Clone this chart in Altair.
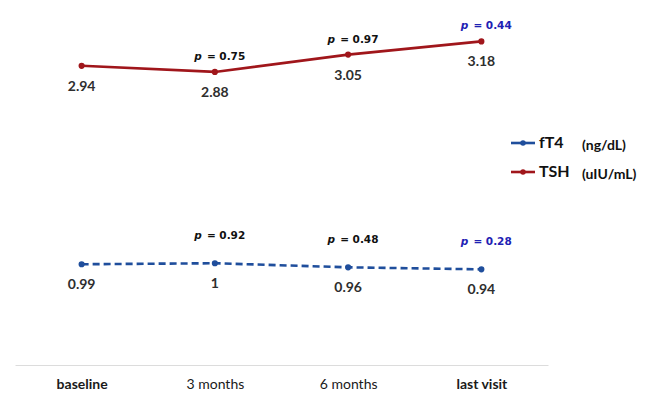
import altair as alt
import pandas as pd

visits = ["baseline", "3 months", "6 months", "last visit"]
tsh_values = [2.94, 2.88, 3.05, 3.18]
ft4_values = [0.99, 1.0, 0.96, 0.94]
tsh_labels = ["2.94", "2.88", "3.05", "3.18"]
ft4_labels = ["0.99", "1", "0.96", "0.94"]
tsh_p = ["", "0.75", "0.97", "0.44"]
ft4_p = ["", "0.92", "0.48", "0.28"]
series_names = ["fT4", "TSH"]
series_units = ["(ng/dL)", "(uIU/mL)"]

RED = "#A0161B"
BLUE = "#1F4E9C"
PBLUE = "#1E22B4"

tsh_df = pd.DataFrame({"visit": visits, "value": tsh_values, "label": tsh_labels, "p": tsh_p})
ft4_df = pd.DataFrame({"visit": visits, "value": ft4_values, "label": ft4_labels, "p": ft4_p})

x = alt.X(
    "visit:N",
    sort=visits,
    scale=alt.Scale(type="point", padding=0.5),
    axis=alt.Axis(
        title=None, ticks=False, grid=False, labelAngle=0,
        domainColor="#dcdcdc", domainWidth=1,
        labelFont="Lato", labelFontSize=14, labelColor="#1a1a1a", labelPadding=12,
        labelFontWeight={"condition": {"test": "datum.value == 'baseline' || datum.value == 'last visit'", "value": "bold"}, "value": "normal"},
    ),
)
y = alt.Y("value:Q", scale=alt.Scale(domain=[0, 3.4]), axis=None)

pcolor = alt.condition(alt.datum.visit == "last visit", alt.value(PBLUE), alt.value("#111111"))


def series_layers(df, color, dash, p_dy):
    base = alt.Chart(df).encode(x=x, y=y)
    line_kw = dict(color=color, strokeWidth=2.6)
    if dash:
        line_kw["strokeDash"] = dash
    line = base.mark_line(**line_kw)
    pts = base.mark_circle(color=color, size=38, opacity=1)
    lab = base.mark_text(dy=21, font="Lato", fontSize=14, fontWeight="bold", color="#2e2e2e").encode(text="label:N")
    pbase = base.transform_filter("datum.p != ''")
    p_letter = pbase.transform_calculate(pl="'p'").mark_text(
        dy=p_dy, dx=-13, align="right", font="DejaVu Sans", fontSize=10.5, fontWeight="bold", fontStyle="italic"
    ).encode(text="pl:N", color=pcolor)
    p_val = pbase.transform_calculate(pv="'= ' + datum.p").mark_text(
        dy=p_dy, dx=-8, align="left", font="DejaVu Sans", fontSize=10.5, fontWeight="bold"
    ).encode(text="pv:N", color=pcolor)
    return [line, pts, lab, p_letter, p_val]


layers = series_layers(tsh_df, RED, None, -15) + series_layers(ft4_df, BLUE, [7, 4], -27)

legend_colors = [BLUE, RED]
legend_y = [124, 153]
for name, unit, col, ly in zip(series_names, series_units, legend_colors, legend_y):
    ldf = pd.DataFrame({"name": [name], "unit": [unit]})
    lb = alt.Chart(ldf)
    layers.append(lb.mark_rule(color=col, strokeWidth=2.6).encode(x=alt.value(496), x2=alt.value(520), y=alt.value(ly)))
    layers.append(lb.mark_circle(color=col, size=30, opacity=1).encode(x=alt.value(508), y=alt.value(ly)))
    layers.append(lb.mark_text(align="left", font="Lato", fontSize=16, fontWeight="bold", color="#111111").encode(
        x=alt.value(524), y=alt.value(ly), text="name:N"))
    layers.append(lb.mark_text(align="left", font="Lato", fontSize=14, fontWeight="bold", color="#111111").encode(
        x=alt.value(567), y=alt.value(ly + 3), text="unit:N"))

chart = alt.layer(*layers).properties(
    width=533, height=346,
    padding={"left": 7, "top": 11, "right": 0, "bottom": 0},
    background="white",
).configure_view(stroke=None)

chart.save("out.html", embed_options={"renderer": "svg", "actions": False})
